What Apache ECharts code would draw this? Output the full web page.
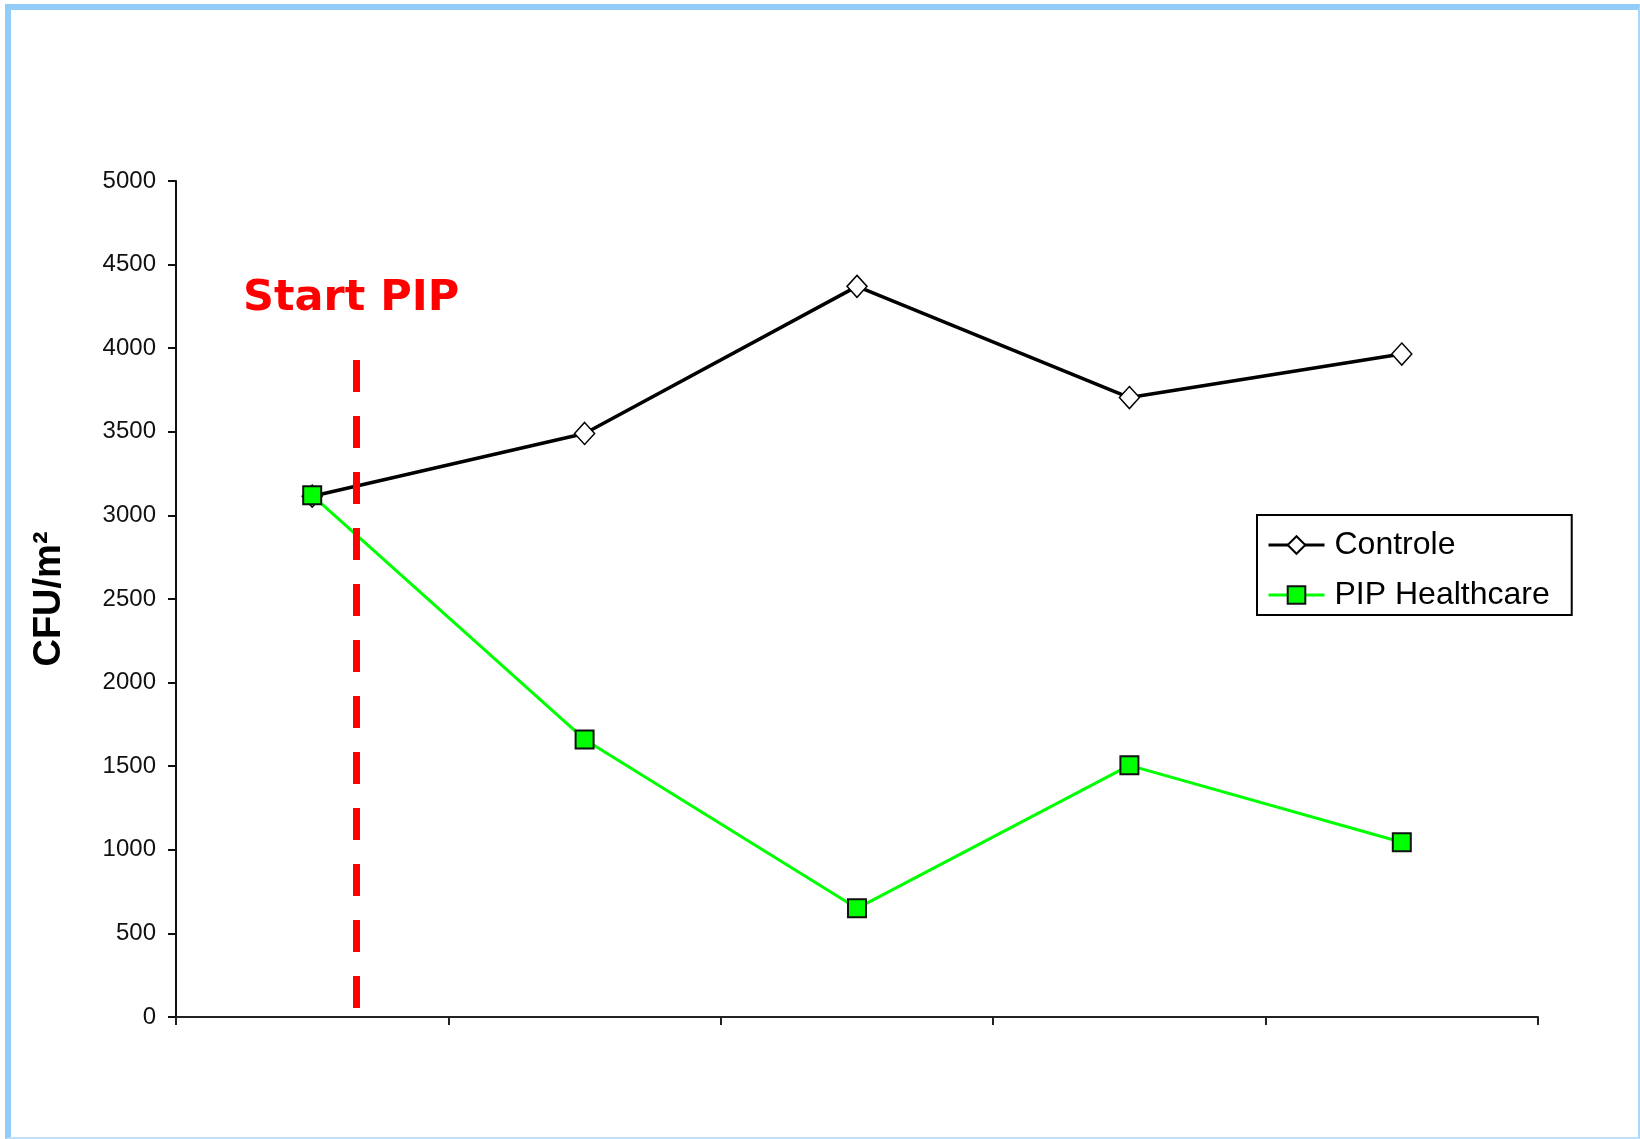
<!DOCTYPE html>
<html>
<head>
<meta charset="utf-8">
<script src="https://cdn.jsdelivr.net/npm/echarts@6/dist/echarts.min.js"></script>
<style>
  html, body { margin: 0; padding: 0; background: #ffffff; }
  #frame { position: absolute; left: 5px; top: 4px; width: 1627px; height: 1127px;
           border-left: 6px solid #92CDFA; border-top: 6px solid #92CDFA;
           border-right: 2px solid #A9D7FB; border-bottom: 2px solid #BFE1FC; }
  #chart { position: absolute; left: 0; top: 0; width: 1640px; height: 1139px; }
</style>
</head>
<body>
<div id="frame"></div>
<div id="chart"></div>
<script>
// ---- data ----
const categories = ['1', '2', '3', '4', '5'];
const controle = [3115, 3490, 4370, 3705, 3965];
const pipHealthcare = [3120, 1660, 650, 1505, 1045];
const yTicks = { min: 0, max: 5000, interval: 500 };
const startPipX = 0.66;          // position on the category span (0..5)
const startPipRange = [3929, 54]; // top, bottom of the dashed marker (CFU/m²)

const chart = echarts.init(document.getElementById('chart'));
chart.setOption({
  animation: false,
  backgroundColor: 'transparent',
  title: {
    text: 'Start PIP',
    left: 243, top: 277, padding: 0,
    textStyle: { color: '#FF0000', fontFamily: 'DejaVu Sans', fontWeight: 'bold', fontSize: 43 }
  },
  legend: {
    data: ['Controle', 'PIP Healthcare'],
    orient: 'vertical',
    left: 1257, top: 515,
    padding: [14, 22, 4, 10],
    itemGap: 18,
    itemWidth: 56, itemHeight: 22,
    borderColor: '#000', borderWidth: 2,
    backgroundColor: '#fff',
    lineStyle: { width: 3 },
    textStyle: { fontFamily: 'Liberation Sans', fontSize: 32, color: '#000', padding: [0, 0, 0, 5] }
  },
  grid: { left: 176, right: 102, top: 181, bottom: 122 },
  xAxis: [{
    type: 'category',
    data: categories,
    boundaryGap: true,
    axisLine: { lineStyle: { color: '#222', width: 2 } },
    axisTick: { show: true, length: 8, lineStyle: { color: '#222', width: 2 } },
    axisLabel: { show: false },
    splitLine: { show: false }
  }, {
    type: 'value', min: 0, max: categories.length, show: false
  }],
  yAxis: {
    type: 'value',
    min: yTicks.min, max: yTicks.max, interval: yTicks.interval,
    name: 'CFU/m²',
    nameLocation: 'middle',
    nameGap: 107,
    nameTextStyle: { fontFamily: 'Liberation Sans', fontWeight: 'bold', fontSize: 38, color: '#000' },
    axisLine: { show: true, lineStyle: { color: '#111', width: 2 } },
    axisTick: { show: true, length: 8, lineStyle: { color: '#111', width: 2 } },
    axisLabel: { margin: 20, fontFamily: 'Liberation Sans', fontSize: 24, color: '#111',
                 formatter: function (v) { return String(v); } },
    splitLine: { show: false }
  },
  series: [{
    name: 'Controle',
    type: 'line',
    data: controle,
    symbol: 'diamond', symbolSize: [20, 22],
    lineStyle: { color: '#000', width: 3.5 },
    itemStyle: { color: '#fff', borderColor: '#000', borderWidth: 1.5 },
    z: 3
  }, {
    name: 'PIP Healthcare',
    type: 'line',
    data: pipHealthcare,
    symbol: 'rect', symbolSize: 18,
    lineStyle: { color: '#00FF00', width: 3 },
    itemStyle: { color: '#00FF00', borderColor: '#111', borderWidth: 2 },
    z: 4
  }, {
    name: 'marker',
    type: 'line',
    xAxisIndex: 1,
    data: [],
    markLine: {
      silent: true,
      symbol: ['none', 'none'],
      label: { show: false },
      lineStyle: { color: '#FF0000', width: 7, type: [32, 24] },
      data: [[{ coord: [startPipX, startPipRange[0]] }, { coord: [startPipX, startPipRange[1]] }]]
    }
  }]
});
</script>
</body>
</html>
